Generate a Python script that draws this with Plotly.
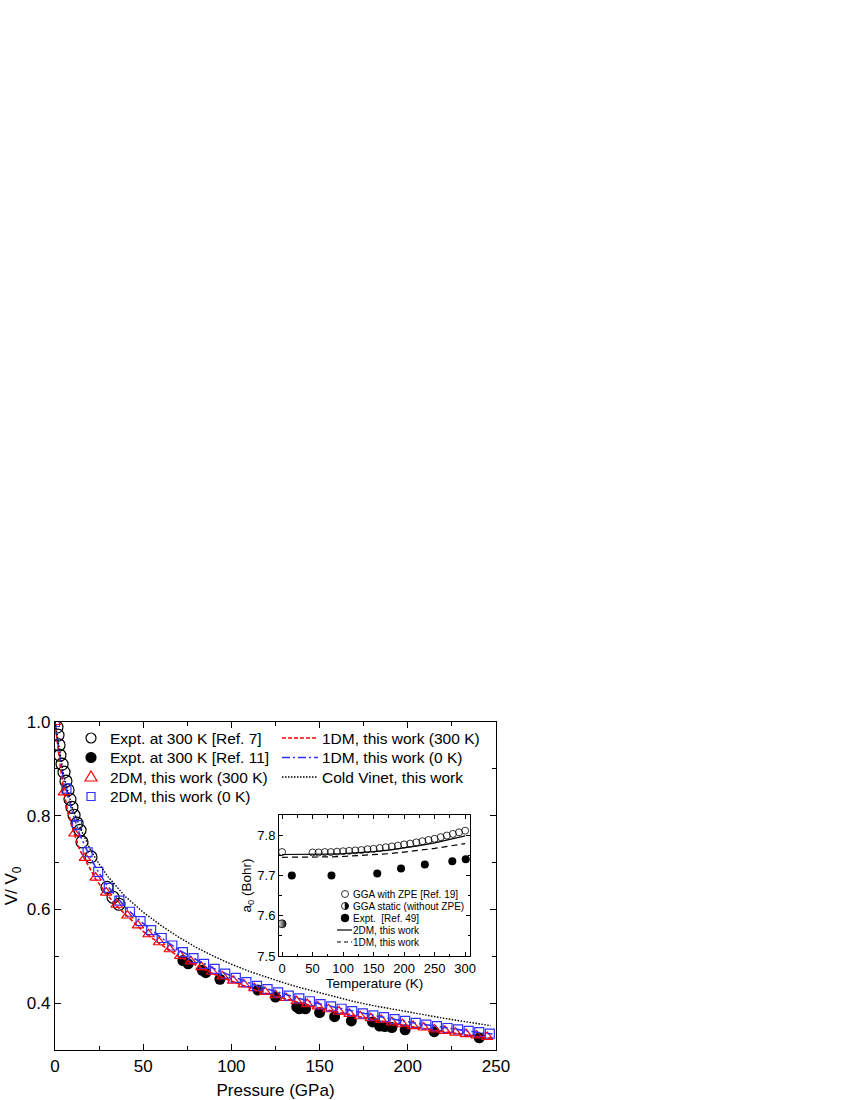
import plotly.graph_objects as go

# ---------------- main panel data ----------------
p_ref7 = [1.1, 1.7, 2.3, 2.8, 4.0, 5.1, 6.2, 7.4, 8.5, 9.6, 10.8, 12.5, 14.2, 15.3, 20.4, 29.5, 32.9, 36.3]
v_ref7 = [0.989, 0.972, 0.951, 0.929, 0.910, 0.893, 0.874, 0.855, 0.835, 0.818, 0.801, 0.784, 0.769, 0.744, 0.712, 0.647, 0.626, 0.611]

p_ref11 = [72.5, 75.5, 83.5, 85.5, 93.5, 115, 125, 137, 138.5, 142, 150, 158.5, 168, 180, 184, 187, 191, 198.5, 215, 240.5]
v_ref11 = [0.491, 0.484, 0.470, 0.465, 0.451, 0.428, 0.413, 0.392, 0.388, 0.388, 0.380, 0.371, 0.362, 0.360, 0.351, 0.350, 0.348, 0.343, 0.339, 0.326]

p_2dm300 = [0, 5, 11, 17, 23, 29, 35, 41, 47, 53, 59, 65, 71, 77, 83, 89, 95, 101, 107, 113, 119,
            125, 131, 137, 143, 149, 155, 161, 167, 173, 179, 185, 191, 197, 203, 209, 215, 221, 227, 233, 239, 245]
v_2dm300 = [1.0, 0.850, 0.762, 0.710, 0.668, 0.636, 0.610, 0.587, 0.566, 0.547, 0.530, 0.515, 0.501, 0.489,
            0.477, 0.467, 0.457, 0.448, 0.440, 0.432, 0.424, 0.417, 0.411, 0.404, 0.398, 0.393, 0.387, 0.382,
            0.377, 0.372, 0.368, 0.364, 0.359, 0.355, 0.351, 0.348, 0.344, 0.341, 0.337, 0.334, 0.331, 0.328]

p_2dm0 = [0, 6.5, 12.5, 18.5, 24.5, 30.5, 36.5, 42.5, 48.5, 54.5, 60.5, 66.5, 72.5, 78.5, 84.5, 90.5, 96.5,
          102.5, 108.5, 114.5, 120.5, 126.5, 132.5, 138.5, 144.5, 150.5, 156.5, 162.5, 168.5, 174.5, 180.5,
          186.5, 192.5, 198.5, 204.5, 210.5, 216.5, 222.5, 228.5, 234.5, 240.5, 246.5]
v_2dm0 = [1.0, 0.858, 0.780, 0.722, 0.680, 0.646, 0.619, 0.595, 0.575, 0.556, 0.539, 0.523, 0.509, 0.496,
          0.484, 0.473, 0.463, 0.454, 0.445, 0.437, 0.430, 0.423, 0.416, 0.410, 0.404, 0.398, 0.393, 0.388,
          0.383, 0.378, 0.374, 0.370, 0.366, 0.362, 0.358, 0.354, 0.351, 0.347, 0.344, 0.341, 0.338, 0.335]

p_1dm = [0, 1, 2, 3, 5, 7, 10, 14, 18, 23, 29, 35, 42, 50, 60, 70, 80, 90, 100, 115, 130, 145, 160, 175,
         190, 205, 220, 235, 248]
v_1dm300 = [1.0, 0.965, 0.935, 0.905, 0.852, 0.813, 0.772, 0.727, 0.700, 0.665, 0.634, 0.607, 0.582, 0.553,
            0.525, 0.500, 0.481, 0.462, 0.447, 0.426, 0.410, 0.394, 0.381, 0.369, 0.358, 0.348, 0.339, 0.331, 0.325]
v_1dm0 = [1.0, 0.970, 0.945, 0.920, 0.875, 0.845, 0.805, 0.760, 0.727, 0.690, 0.654, 0.626, 0.597, 0.570,
          0.540, 0.514, 0.493, 0.474, 0.458, 0.436, 0.419, 0.403, 0.390, 0.378, 0.367, 0.357, 0.348, 0.340, 0.334]

p_vinet = [0, 5, 10, 15, 20, 25, 30, 40, 50, 60, 70, 80, 90, 100, 110, 120, 130, 140, 150, 160, 170, 180,
           190, 200, 210, 220, 230, 240, 247]
v_vinet = [1.0, 0.885, 0.815, 0.768, 0.728, 0.697, 0.670, 0.627, 0.594, 0.566, 0.541, 0.519, 0.500, 0.483,
           0.468, 0.455, 0.443, 0.432, 0.422, 0.412, 0.403, 0.395, 0.388, 0.381, 0.374, 0.368, 0.362, 0.356, 0.352]

# ---------------- inset data ----------------
t_zpe = [0, 50, 60, 70, 80, 90, 100, 110, 120, 130, 140, 150, 160, 170, 180, 190, 200, 210, 220, 230, 240,
         250, 260, 270, 280, 290, 300]
a_zpe = [7.758, 7.757, 7.757, 7.758, 7.758, 7.759, 7.760, 7.761, 7.762, 7.763, 7.765, 7.766, 7.768, 7.770,
         7.772, 7.774, 7.777, 7.779, 7.782, 7.785, 7.788, 7.791, 7.795, 7.799, 7.803, 7.807, 7.811]
t_static = [0]
a_static = [7.58]
t_expt = [16, 81, 156, 195, 234, 279, 301]
a_expt = [7.700, 7.700, 7.705, 7.717, 7.727, 7.735, 7.740]
t_model = [0, 25, 50, 75, 100, 125, 150, 175, 200, 225, 250, 275, 300]
a_2dm = [7.752, 7.752, 7.752, 7.753, 7.754, 7.756, 7.759, 7.763, 7.768, 7.774, 7.781, 7.789, 7.798]
a_1dm = [7.745, 7.745, 7.745, 7.746, 7.747, 7.749, 7.751, 7.754, 7.758, 7.762, 7.767, 7.773, 7.779]

# legend labels
main_labels_left = ["Expt. at 300 K [Ref. 7]", "Expt. at 300 K [Ref. 11]", "2DM, this work (300 K)",
                    "2DM, this work (0 K)"]
main_labels_right = ["1DM, this work (300 K)", "1DM, this work (0 K)", "Cold Vinet, this work"]
inset_labels = ["GGA with ZPE [Ref. 19]", "GGA static (without ZPE)", "Expt.  [Ref. 49]", "2DM, this work",
                "1DM, this work"]

FONT = "Liberation Sans, Arial, sans-serif"
RED = "#ff0000"
BLUE = "#2f2fff"
DASH_RED = "4px,2px"
DASH_BLUE = "8px,3px,2px,3px"
DASH_DOT = "1.5px,1.5px"
DASH_INSET = "6px,4px"

fig = go.Figure()

# main traces
fig.add_trace(go.Scatter(x=p_ref11, y=v_ref11, mode="markers", name=main_labels_left[1],
                         marker=dict(symbol="circle", size=11, color="black")))
fig.add_trace(go.Scatter(x=p_ref7, y=v_ref7, mode="markers", name=main_labels_left[0],
                         marker=dict(symbol="circle-open", size=12, color="black", line=dict(width=1.2))))
fig.add_trace(go.Scatter(x=p_2dm300, y=v_2dm300, mode="markers", name=main_labels_left[2],
                         marker=dict(symbol="triangle-up-open", size=10, color=RED, line=dict(width=1.2))))
fig.add_trace(go.Scatter(x=p_2dm0, y=v_2dm0, mode="markers", name=main_labels_left[3],
                         marker=dict(symbol="square-open", size=9, color=BLUE, line=dict(width=1.2))))
fig.add_trace(go.Scatter(x=p_1dm, y=v_1dm300, mode="lines", name=main_labels_right[0],
                         line=dict(color=RED, width=1.6, dash=DASH_RED)))
fig.add_trace(go.Scatter(x=p_1dm, y=v_1dm0, mode="lines", name=main_labels_right[1],
                         line=dict(color=BLUE, width=1.6, dash=DASH_BLUE)))
fig.add_trace(go.Scatter(x=p_vinet, y=v_vinet, mode="lines", name=main_labels_right[2],
                         line=dict(color="black", width=1.4, dash=DASH_DOT)))

# inset traces
fig.add_trace(go.Scatter(x=t_zpe, y=a_zpe, mode="markers", name=inset_labels[0], xaxis="x2", yaxis="y2",
                         marker=dict(symbol="circle-open", size=7, color="black", line=dict(width=0.8))))
fig.add_trace(go.Scatter(x=t_static, y=a_static, mode="markers", name=inset_labels[1], xaxis="x2", yaxis="y2",
                         marker=dict(symbol="circle", size=8, color="white",
                                     gradient=dict(type="horizontal", color="black"),
                                     line=dict(width=0.8, color="black"))))
fig.add_trace(go.Scatter(x=t_expt, y=a_expt, mode="markers", name=inset_labels[2], xaxis="x2", yaxis="y2",
                         marker=dict(symbol="circle", size=8, color="black")))
fig.add_trace(go.Scatter(x=t_model, y=a_2dm, mode="lines", name=inset_labels[3], xaxis="x2", yaxis="y2",
                         line=dict(color="black", width=1.2)))
fig.add_trace(go.Scatter(x=t_model, y=a_1dm, mode="lines", name=inset_labels[4], xaxis="x2", yaxis="y2",
                         line=dict(color="black", width=1.2, dash=DASH_INSET)))

W, H = 850, 1100
L, R, T, B = 55, 496, 722, 1050   # main plot area in pixels
PW, PH = R - L, B - T


def fx(x):
    return (x - L) / PW


def fy(y):
    return (B - y) / PH


# ---------------- hand-built legends (keys are layout decorations) ----------------
shapes = []
annotations = []


def key_circle(cx, cy, r, fill, color="black", lw=1.2):
    shapes.append(dict(type="circle", xref="paper", yref="paper", xsizemode="pixel", ysizemode="pixel",
                       xanchor=fx(cx), yanchor=fy(cy), x0=-r, x1=r, y0=-r, y1=r,
                       fillcolor=fill, line=dict(color=color, width=lw)))


def key_path(cx, cy, path, color, lw=1.2, fill="rgba(0,0,0,0)"):
    shapes.append(dict(type="path", xref="paper", yref="paper", xsizemode="pixel", ysizemode="pixel",
                       xanchor=fx(cx), yanchor=fy(cy), path=path, fillcolor=fill,
                       line=dict(color=color, width=lw)))


def key_line(x0, x1, cy, color, dash, lw):
    shapes.append(dict(type="line", xref="paper", yref="paper", x0=fx(x0), x1=fx(x1), y0=fy(cy), y1=fy(cy),
                       line=dict(color=color, width=lw, dash=dash)))


def label(x, cy, text, size):
    annotations.append(dict(xref="paper", yref="paper", x=fx(x), y=fy(cy), text=text, showarrow=False,
                            xanchor="left", yanchor="middle", font=dict(size=size, family=FONT, color="black")))


rows_main = [738, 757.5, 777, 796.5]
key_circle(91, rows_main[0], 5, "rgba(0,0,0,0)")
key_circle(91, rows_main[1], 5, "black")
key_path(91, rows_main[2], "M-6,-4 L6,-4 L0,6 Z", RED)
key_path(91, rows_main[3], "M-4,-4 L4,-4 L4,4 L-4,4 Z", BLUE)
for yy, txt in zip(rows_main, main_labels_left):
    label(108, yy, txt, 15.5)

key_line(282, 318, rows_main[0], RED, DASH_RED, 1.6)
key_line(282, 318, rows_main[1], BLUE, DASH_BLUE, 1.6)
key_line(282, 318, rows_main[2], "black", DASH_DOT, 1.3)
for yy, txt in zip(rows_main[:3], main_labels_right):
    label(320, yy, txt, 15.5)

rows_in = [894, 906, 918, 930, 942]
key_circle(345, rows_in[0], 3.5, "rgba(0,0,0,0)", lw=0.8)
key_circle(345, rows_in[1], 3.5, "white", lw=0.8)
key_path(345, rows_in[1], "M0,3.5 C1.93,3.5 3.5,1.93 3.5,0 C3.5,-1.93 1.93,-3.5 0,-3.5 Z", "black", lw=0.5,
         fill="black")
key_circle(345, rows_in[2], 4, "black", lw=0.5)
key_line(337, 352, rows_in[3], "black", "solid", 1.2)
key_line(337, 352, rows_in[4], "black", "4px,3px", 1.2)
for yy, txt in zip(rows_in, inset_labels):
    label(351, yy, txt, 10)

base = dict(showline=True, linecolor="black", mirror="allticks", ticks="inside", tickcolor="black",
            showgrid=False, zeroline=False, automargin=False)

fig.update_layout(
    width=W, height=H, margin=dict(l=L, r=W - R, t=T, b=H - B, autoexpand=False),
    paper_bgcolor="white", plot_bgcolor="white", showlegend=False,
    font=dict(family=FONT, color="black"),
    xaxis=dict(domain=[0, 1], range=[0, 250], tickvals=[0, 50, 100, 150, 200, 250], ticklen=6, linewidth=1.3,
               tickwidth=1.2, tickfont=dict(size=17), anchor="y",
               minor=dict(ticks="inside", dtick=25, tick0=0, ticklen=3.5, tickcolor="black", tickwidth=1.2),
               title=dict(text="Pressure (GPa)", font=dict(size=17), standoff=9), **base),
    yaxis=dict(domain=[0, 1], range=[0.3, 1.0], tickvals=[0.4, 0.6, 0.8, 1.0], tickformat=".1f",
               ticklen=6, tickwidth=1.2, tickfont=dict(size=17), anchor="x", linewidth=1.3,
               minor=dict(ticks="inside", dtick=0.1, tick0=0.3, ticklen=3.5, tickcolor="black", tickwidth=1.2),
               title=dict(text="V/ V<sub>0</sub>", font=dict(size=17), standoff=4), **base),
    xaxis2=dict(domain=[fx(279), fx(470)], range=[-5, 308], tickvals=[0, 50, 100, 150, 200, 250, 300],
                ticklen=4, tickwidth=1, tickfont=dict(size=13), anchor="y2", linewidth=1,
                minor=dict(ticks="inside", dtick=25, tick0=0, ticklen=2.5, tickcolor="black", tickwidth=1),
                title=dict(text="Temperature (K)", font=dict(size=13.5), standoff=0), **base),
    yaxis2=dict(domain=[fy(956), fy(815)], range=[7.5, 7.85], tickvals=[7.5, 7.6, 7.7, 7.8], tickformat=".1f",
                ticklen=4, tickwidth=1, tickfont=dict(size=13), anchor="x2", linewidth=1,
                minor=dict(ticks="inside", dtick=0.05, tick0=7.5, ticklen=2.5, tickcolor="black", tickwidth=1),
                title=dict(text="a<sub>0</sub> (Bohr)", font=dict(size=13.5), standoff=2), **base),
    shapes=shapes,
    annotations=annotations,
)

fig.write_html("out.html", config={"displayModeBar": False},
               post_script="document.body.style.margin='0px';")
